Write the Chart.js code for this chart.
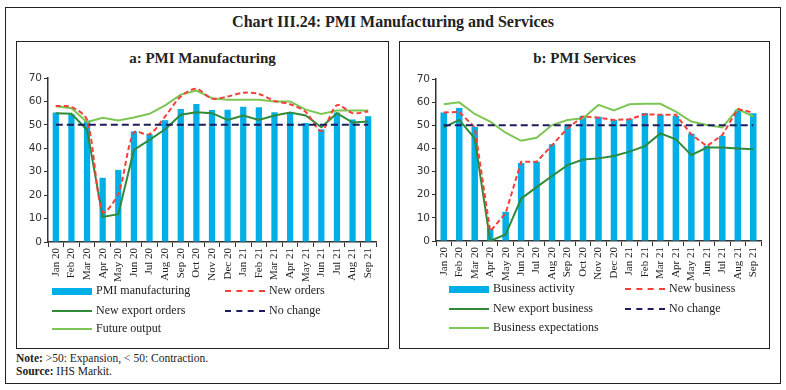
<!DOCTYPE html>
<html>
<head>
<meta charset="utf-8">
<script src="https://cdn.jsdelivr.net/npm/chart.js@4.4.0/dist/chart.umd.min.js"></script>
<style>
  body { margin: 0; background: #fff; }
  #page { position: relative; width: 786px; height: 390px; overflow: hidden; font-family: "Liberation Serif", serif; color: #222; }
  .frame { position: absolute; border: 1.5px solid #222; box-sizing: border-box; }
  .title { position: absolute; font-weight: bold; white-space: nowrap; text-align: center; }
  canvas { position: absolute; }
  .leg { position: absolute; font-size: 12px; white-space: nowrap; line-height: 14px; }
  .sw { position: absolute; width: 40px; }
  .note { position: absolute; left: 16px; font-size: 11.5px; white-space: nowrap; }
</style>
</head>
<body>
<div id="page">
  <div class="frame" style="left:5px;top:7px;width:776px;height:377px;"></div>
  <div class="title" style="left:0;width:786px;top:13px;font-size:16px;">Chart III.24: PMI Manufacturing and Services</div>

  <div class="frame" style="left:16px;top:41px;width:373px;height:308px;"></div>
  <div class="frame" style="left:399px;top:41px;width:371px;height:308px;"></div>
  <div class="title" style="left:16px;width:373px;top:50px;font-size:15px;">a: PMI Manufacturing</div>
  <div class="title" style="left:399px;width:371px;top:50px;font-size:15px;">b: PMI Services</div>

  <canvas id="chartA" width="372" height="244" style="left:16px;top:41px;"></canvas>
  <canvas id="chartB" width="370" height="244" style="left:399px;top:41px;"></canvas>

  <div id="legendA"></div>
  <div id="legendB"></div>

  <div class="note" style="top:352px;"><b>Note:</b> &gt;50: Expansion, &lt; 50: Contraction.</div>
  <div class="note" style="top:365px;"><b>Source:</b> IHS Markit.</div>
</div>

<script>
// months on the x axis
var months = ['Jan 20', 'Feb 20', 'Mar 20', 'Apr 20', 'May 20', 'Jun 20', 'Jul 20', 'Aug 20', 'Sep 20',
    'Oct 20', 'Nov 20', 'Dec 20', 'Jan 21', 'Feb 21', 'Mar 21', 'Apr 21', 'May 21', 'Jun 21', 'Jul 21',
    'Aug 21', 'Sep 21'];
var yTicks = [0, 10, 20, 30, 40, 50, 60, 70];

// panel a: manufacturing
var pmiManufacturing = [55.3, 54.5, 51.8, 27.4, 30.8, 47.2, 46.0, 52.0, 56.8, 58.9, 56.3, 56.4, 57.7, 57.5, 55.4, 55.5, 50.8, 48.1, 55.3, 52.3, 53.7];
var newOrders = [58.1, 57.6, 52.1, 12.9, 20.7, 46.7, 46.0, 53.6, 62.1, 65.4, 61.2, 62.1, 63.7, 63.2, 60.2, 58.8, 55.5, 47.4, 58.4, 55.0, 55.7];
var newExportOrders = [55.0, 54.7, 47.9, 10.7, 11.9, 39.3, 43.6, 48.1, 54.3, 55.4, 55.0, 52.1, 54.0, 52.1, 54.0, 55.3, 54.0, 49.0, 55.0, 51.0, 51.4];
var futureOutput = [57.9, 57.1, 51.2, 53.0, 51.9, 53.1, 54.7, 58.3, 62.9, 64.6, 61.4, 60.7, 60.7, 60.7, 60.0, 60.0, 56.5, 54.6, 56.1, 56.1, 56.1];

// panel b: services
var businessActivity = [55.5, 57.5, 49.3, 5.4, 12.6, 33.7, 34.2, 41.8, 49.8, 54.1, 53.7, 52.3, 52.8, 55.3, 54.6, 54.0, 46.4, 41.2, 45.4, 56.7, 55.2];
var newBusiness = [55.5, 55.8, 49.1, 4.2, 12.0, 34.2, 34.2, 41.4, 48.7, 53.8, 53.3, 52.3, 52.6, 54.8, 54.5, 54.5, 46.0, 41.0, 45.8, 57.0, 55.5];
var newExportBusiness = [49.1, 52.3, 44.3, 0.0, 2.8, 18.3, 23.3, 28.1, 32.8, 35.2, 35.7, 36.7, 38.6, 41.0, 46.5, 43.9, 37.1, 40.4, 40.4, 40.0, 39.6];
var businessExpectations = [59.1, 59.9, 54.9, 51.6, 46.8, 43.3, 44.6, 50.1, 52.3, 53.0, 58.8, 56.4, 59.1, 59.3, 59.3, 55.9, 51.6, 50.1, 49.1, 57.0, 53.8];

// threshold line
var noChange = [50, 50, 50, 50, 50, 50, 50, 50, 50, 50, 50, 50, 50, 50, 50, 50, 50, 50, 50, 50, 50];

var colBar = '#00aee8';
var colRed = '#f5403a';
var colDark = '#2f8a3a';
var colLight = '#7dc653';
var colNavy = '#1c1c5e';

Chart.defaults.font.family = '"Liberation Serif", serif';
Chart.defaults.color = '#222';

function lineSet(label, data, color, dash, tension) {
    return {
        type: 'line', label: label, data: data,
        borderColor: color, backgroundColor: color,
        borderWidth: 2, borderDash: dash || [], tension: tension || 0,
        pointRadius: 0, fill: false, order: 1
    };
}

function makeChart(id, yWidth, xHeight, pad, datasets) {
    var ctx = document.getElementById(id).getContext('2d');
    return new Chart(ctx, {
        type: 'bar',
        data: { labels: months, datasets: datasets },
        options: {
            responsive: false,
            animation: false,
            layout: { padding: pad },
            plugins: { legend: { display: false }, tooltip: { enabled: false } },
            scales: {
                x: {
                    grid: { offset: true, drawOnChartArea: false, tickLength: 5, color: '#333', lineWidth: 1 },
                    border: { color: '#333', width: 1.5 },
                    ticks: { autoSkip: false, maxRotation: 90, minRotation: 90, padding: 1,
                        font: { size: 11 }, color: '#222' },
                    afterFit: function (s) { s.height = xHeight; }
                },
                y: {
                    min: 0, max: 70,
                    afterBuildTicks: function (s) { s.ticks = yTicks.map(function (v) { return { value: v }; }); },
                    grid: { drawOnChartArea: false, tickLength: 4, color: '#333' },
                    border: { color: '#333', width: 1.5 },
                    ticks: { padding: 2, font: { family: '"DejaVu Sans", sans-serif', size: 10.5 }, color: '#333' },
                    afterFit: function (s) { s.width = yWidth; }
                }
            }
        }
    });
}

makeChart('chartA', 32, 43, { left: 0, right: 12, top: 37, bottom: 0 }, [
    lineSet('No change', noChange, colNavy, [7, 4]),
    lineSet('New orders', newOrders, colRed, [5, 3], 0.3),
    lineSet('Future output', futureOutput, colLight),
    lineSet('New export orders', newExportOrders, colDark),
    { type: 'bar', label: 'PMI manufacturing', data: pmiManufacturing, backgroundColor: colBar,
      barPercentage: 0.4, categoryPercentage: 1, order: 10 }
]);

makeChart('chartB', 37, 44, { left: 0, right: 8, top: 38, bottom: 0 }, [
    lineSet('No change', noChange, colNavy, [7, 4]),
    lineSet('New business', newBusiness, colRed, [5, 3]),
    lineSet('Business expectations', businessExpectations, colLight),
    lineSet('New export business', newExportBusiness, colDark),
    { type: 'bar', label: 'Business activity', data: businessActivity, backgroundColor: colBar,
      barPercentage: 0.42, categoryPercentage: 1, order: 10 }
]);

// legends drawn as html, two columns like the original
function addLegend(holderId, items) {
    var holder = document.getElementById(holderId);
    items.forEach(function (it) {
        var sw = document.createElement('div');
        sw.className = 'sw';
        sw.style.left = it.x + 'px';
        if (it.kind === 'bar') {
            sw.style.top = (it.y - 3.5) + 'px';
            sw.style.height = '7px';
            sw.style.background = it.color;
        } else {
            sw.style.top = (it.y - 1) + 'px';
            sw.style.height = '0';
            sw.style.borderTop = '2px ' + (it.kind === 'dash' ? 'dashed ' : 'solid ') + it.color;
        }
        holder.appendChild(sw);
        var t = document.createElement('div');
        t.className = 'leg';
        t.style.left = (it.x + 44) + 'px';
        t.style.top = (it.y - 8) + 'px';
        t.textContent = it.label;
        holder.appendChild(t);
    });
}

addLegend('legendA', [
    { x: 52, y: 291, kind: 'bar', color: colBar, label: 'PMI manufacturing' },
    { x: 225, y: 291, kind: 'dash', color: colRed, label: 'New orders' },
    { x: 52, y: 311, kind: 'line', color: colDark, label: 'New export orders' },
    { x: 225, y: 311, kind: 'dash', color: colNavy, label: 'No change' },
    { x: 52, y: 329, kind: 'line', color: colLight, label: 'Future output' }
]);

addLegend('legendB', [
    { x: 449, y: 289, kind: 'bar', color: colBar, label: 'Business activity' },
    { x: 625, y: 289, kind: 'dash', color: colRed, label: 'New business' },
    { x: 449, y: 309, kind: 'line', color: colDark, label: 'New export business' },
    { x: 625, y: 309, kind: 'dash', color: colNavy, label: 'No change' },
    { x: 449, y: 328, kind: 'line', color: colLight, label: 'Business expectations' }
]);
</script>
</body>
</html>
